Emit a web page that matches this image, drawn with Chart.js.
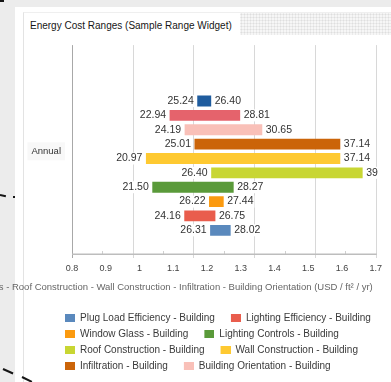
<!DOCTYPE html>
<html>
<head>
<meta charset="utf-8">
<title>Energy Cost Ranges</title>
<script src="https://cdn.jsdelivr.net/npm/chart.js@4/dist/chart.umd.min.js"></script>
<style>
  html, body { margin: 0; padding: 0; }
  body { width: 391px; height: 382px; position: relative; overflow: hidden; background: #ececec; font-family: "Liberation Sans", Arial, sans-serif; }
  .panel { position: absolute; left: 15px; top: 7px; right: 0; bottom: 0; background: #fff; }
  .frame { position: absolute; left: 23px; top: 12px; right: 0; bottom: 0; border-left: 1px solid #e3e3e3; border-top: 1px solid #efefef; }
  .band { position: absolute; left: 240px; top: 13px; right: 0; height: 22px; background-color: #f6f6f6;
          background-image: radial-gradient(circle, #dedede 0.8px, rgba(255,255,255,0) 1.2px); background-size: 3px 3px; }
  .title { position: absolute; left: 30px; top: 20px; font-size: 10px; line-height: 12px; color: #161616; white-space: nowrap; }
  canvas { position: absolute; left: 0; top: 0; }
  .mark { position: absolute; height: 2px; background: #151515; transform-origin: 0 50%; }
</style>
</head>
<body>
<div class="panel"></div>
<div class="frame"></div>
<div class="band"></div>
<div class="title">Energy Cost Ranges (Sample Range Widget)</div>
<canvas id="chart" width="391" height="382"></canvas>
<div class="mark" style="left:0;top:0;width:4px;"></div>
<div class="mark" style="left:0;top:194px;width:6px;transform:rotate(12deg);"></div>
<div class="mark" style="left:13px;top:196px;width:2px;"></div>
<div class="mark" style="left:3px;top:368px;width:11px;transform:rotate(24deg);"></div>
<div class="mark" style="left:22px;top:376px;width:11px;transform:rotate(26deg);"></div>
<script>
// Range per measure, top row first; the first two slots stay empty
const categories = ['Annual'];
const seriesLabels = ['', '', '', '',
  'Building Orientation - Building', 'Infiltration - Building', 'Wall Construction - Building',
  'Roof Construction - Building', 'Lighting Controls - Building', 'Window Glass - Building',
  'Lighting Efficiency - Building', 'Plug Load Efficiency - Building'];
const rangeLow  = [null, null, 25.24, 22.94, 24.19, 25.01, 20.97, 26.40, 21.50, 26.22, 24.16, 26.31];
const rangeHigh = [null, null, 26.40, 28.81, 30.65, 37.14, 37.14, 39,    28.27, 27.44, 26.75, 28.02];
const seriesColors = ['rgba(0,0,0,0)', 'rgba(0,0,0,0)', '#1f5c9e', '#e5636c', '#f9c0b8', '#cb6409',
  '#fec931', '#c8d633', '#5a9a3a', '#fb9a10', '#e95d4d', '#5a89bd'];
const xTickLabels = ['0.8', '0.9', '1', '1.1', '1.2', '1.3', '1.4', '1.5', '1.6', '1.7'];
const axisTitle = 'Plug Load Efficiency - Lighting Efficiency - Window Glass - Lighting Controls - Roof Construction - Wall Construction - Infiltration - Building Orientation (USD / ft\u00B2 / yr)';

const FONT = '"Liberation Sans", Arial, sans-serif';
const gridDivisions = 5;

const fmt = v => Number.isInteger(v) ? String(v) : v.toFixed(2);

// legend swatch: blank lead-in followed by the colour box
function legendSwatch(color) {
  const c = document.createElement('canvas');
  c.width = 20; c.height = 8;
  const g = c.getContext('2d');
  g.fillStyle = color;
  g.fillRect(10, 0, 10, 8);
  return c;
}

function drawTag(ctx, text, x, y, align) {
  const w = ctx.measureText(text).width;
  const left = align === 'right' ? x - w : x;
  ctx.fillStyle = '#ffffff';
  ctx.fillRect(left - 1, y - 6, w + 2, 12);
  ctx.fillStyle = '#333333';
  ctx.textAlign = align;
  ctx.fillText(text, x, y);
}

const axisFrame = {
  id: 'axisFrame',
  beforeDatasetsDraw(chart) {
    const {ctx, chartArea: a, scales: {x, y}} = chart;
    const top = a.top - 3.5, bottom = a.bottom + 4;
    ctx.save();
    ctx.lineWidth = 1;
    ctx.strokeStyle = '#d8d8d8';
    ctx.beginPath();
    for (let i = 1; i <= gridDivisions; i++) {
      const px = Math.round(x.getPixelForValue(x.min + (x.max - x.min) * i / gridDivisions)) + 0.5;
      ctx.moveTo(px, top); ctx.lineTo(px, bottom);
    }
    ctx.stroke();
    // small marks halfway between grid lines
    ctx.strokeStyle = '#cfcfcf';
    ctx.beginPath();
    for (let i = 0; i < gridDivisions; i++) {
      const px = Math.round(x.getPixelForValue(x.min + (x.max - x.min) * (i + 0.5) / gridDivisions)) + 0.5;
      ctx.moveTo(px, a.bottom - 3); ctx.lineTo(px, a.bottom);
    }
    ctx.stroke();

    // category name on a faint backdrop, left of the value area
    ctx.font = '9.5px ' + FONT;
    ctx.textBaseline = 'middle';
    categories.forEach((name, i) => {
      const cy = y.getPixelForTick(i);
      const rx = a.left - 11;
      const w = ctx.measureText(name).width;
      ctx.fillStyle = '#f8f8f8';
      ctx.fillRect(rx - w - 4, cy - 9, w + 8, 18);
      ctx.fillStyle = '#333333';
      ctx.textAlign = 'right';
      ctx.fillText(name, rx, cy);
    });
    ctx.restore();
  },
  afterDatasetsDraw(chart) {
    const {ctx, chartArea: a, scales: {x}} = chart;
    ctx.save();
    ctx.lineWidth = 1;
    ctx.strokeStyle = '#a8a8a8';
    ctx.beginPath();
    ctx.moveTo(Math.round(a.left) + 0.5, a.top - 3.5);
    ctx.lineTo(Math.round(a.left) + 0.5, a.bottom + 4);
    ctx.stroke();
    ctx.lineWidth = 1.5;
    ctx.strokeStyle = '#bdbdbd';
    ctx.beginPath();
    ctx.moveTo(a.left, Math.round(a.bottom) + 0.25);
    ctx.lineTo(a.right + 1, Math.round(a.bottom) + 0.25);
    ctx.stroke();

    // range end values beside each bar
    ctx.font = '10.5px ' + FONT;
    ctx.textBaseline = 'middle';
    chart.data.datasets.forEach((ds, i) => {
      const meta = chart.getDatasetMeta(i);
      meta.data.forEach((bar, j) => {
        const r = ds.data[j];
        if (!r) return;
        const {x: xe, y, base} = bar.getProps(['x', 'y', 'base'], true);
        const lo = Math.min(xe, base), hi = Math.max(xe, base);
        drawTag(ctx, fmt(r[0]), lo - 3.5, y, 'right');
        drawTag(ctx, fmt(r[1]), hi + 3.5, y, 'left');
      });
    });

    // axis title, right-aligned to the end of the value axis
    ctx.font = '9.5px ' + FONT;
    ctx.fillStyle = '#666666';
    ctx.textAlign = 'right';
    ctx.fillText(axisTitle, x.right - 3, x.bottom - 20);
    ctx.restore();
  }
};

const datasets = seriesLabels.map((label, i) => ({
  label,
  data: [rangeLow[i] == null ? null : [rangeLow[i], rangeHigh[i]]],
  backgroundColor: seriesColors[i],
  borderWidth: 0,
  barPercentage: 0.752,
  categoryPercentage: 0.8395
}));

new Chart(document.getElementById('chart'), {
  type: 'bar',
  data: { labels: categories, datasets },
  plugins: [axisFrame],
  options: {
    indexAxis: 'y',
    responsive: false,
    animation: false,
    devicePixelRatio: 1,
    layout: { padding: { left: 49, right: 12, top: 48.6, bottom: 1 } },
    scales: {
      x: {
        type: 'linear',
        min: 14.82,
        max: 40.09,
        afterBuildTicks(s) {
          s.ticks = xTickLabels.map((t, i) => ({ value: s.min + (s.max - s.min) * i / (xTickLabels.length - 1) }));
        },
        afterFit(s) { s.height = 53; },
        ticks: {
          callback: (v, i) => xTickLabels[i],
          autoSkip: false, maxRotation: 0, padding: 9,
          color: '#444444', font: { size: 9, family: FONT }
        },
        grid: { display: false, drawTicks: false },
        border: { display: false }
      },
      y: {
        type: 'category',
        afterFit(s) { s.width = 23; },
        ticks: { display: false },
        grid: { display: false, drawTicks: false },
        border: { display: false }
      }
    },
    plugins: {
      tooltip: { enabled: false },
      legend: {
        position: 'bottom',
        align: 'start',
        labels: {
          usePointStyle: true,
          pointStyleWidth: 20,
          boxHeight: 8,
          padding: 6,
          color: '#3a3a3a',
          font: { size: 10, family: FONT },
          generateLabels(chart) {
            const items = Chart.defaults.plugins.legend.labels.generateLabels(chart);
            items.forEach(it => { it.pointStyle = legendSwatch(it.fillStyle); it.lineWidth = 0; });
            return items;
          },
          filter: item => item.text !== '',
          sort: (a, b) => b.datasetIndex - a.datasetIndex
        }
      }
    }
  }
});
</script>
</body>
</html>
